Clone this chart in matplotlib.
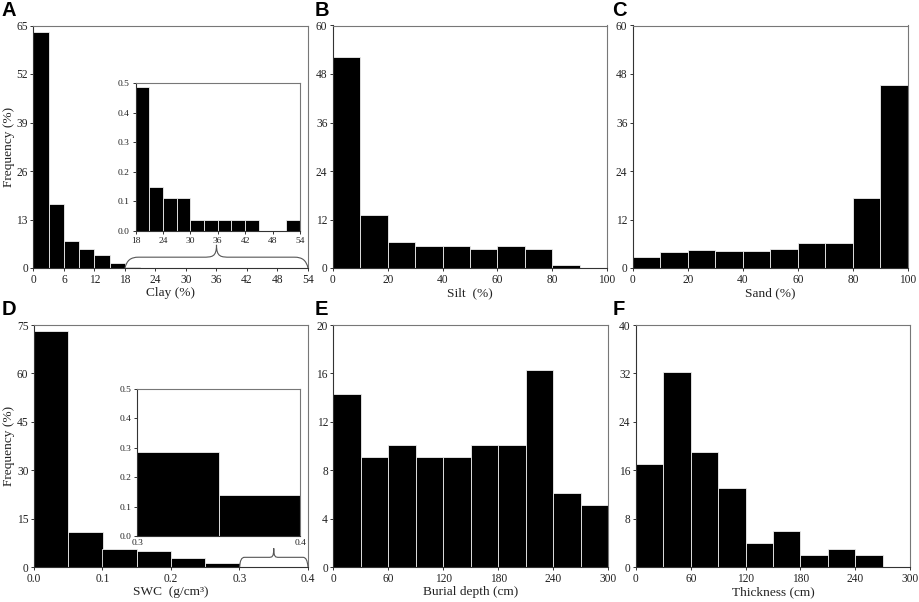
import numpy as np
import matplotlib
matplotlib.use("Agg")
import matplotlib.pyplot as plt
from matplotlib.patches import PathPatch
from matplotlib.path import Path

plt.rcParams["font.family"] = ["Liberation Serif", "DejaVu Serif"]

W, H = 920, 602

clay_freq = [63.2, 17.2, 7.3, 5.0, 3.5, 1.4, 0.4, 0, 0, 0, 0, 0, 0, 0, 0, 0, 0, 0]
clay_inset_freq = [0.485, 0.148, 0.111, 0.111, 0.037, 0.037, 0.037, 0.037, 0.037, 0, 0, 0.037]
silt_freq = [52.3, 13.0, 6.4, 5.4, 5.4, 4.7, 5.4, 4.7, 0.7, 0]
sand_freq = [2.8, 3.9, 4.4, 4.1, 4.3, 4.7, 6.2, 6.2, 17.3, 45.3]
swc_freq = [73.0, 11.0, 5.7, 5.1, 2.8, 1.1, 0.0, 0.0]
swc_inset_freq = [0.285, 0.14]
depth_freq = [14.3, 9.1, 10.1, 9.1, 9.1, 10.1, 10.1, 16.3, 6.1, 5.1]
thick_freq = [17.0, 32.2, 19.0, 13.0, 4.0, 6.0, 2.0, 3.0, 2.0, 0]

clay_xticks = [0, 6, 12, 18, 24, 30, 36, 42, 48, 54]
clay_inset_xticks = [18, 24, 30, 36, 42, 48, 54]
pct_xticks = [0, 20, 40, 60, 80, 100]
swc_xticks = [0.0, 0.1, 0.2, 0.3, 0.4]
cm_xticks = [0, 60, 120, 180, 240, 300]
clay_yticks = [0, 13, 26, 39, 52, 65]
silt_yticks = [0, 12, 24, 36, 48, 60]
swc_yticks = [0, 15, 30, 45, 60, 75]
depth_yticks = [0, 4, 8, 12, 16, 20]
thick_yticks = [0, 8, 16, 24, 32, 40]
inset_yticks = [0.0, 0.1, 0.2, 0.3, 0.4, 0.5]


def px_axes(fig, x0, y0, x1, y1):
    # pixel box, y measured from the top of the image
    return fig.add_axes([x0 / W, 1 - y1 / H, (x1 - x0) / W, (y1 - y0) / H])


def hist_panel(ax, freq, xlim, xticks, yticks, xlabel=None, ylabel=None, fmt=None, size=8.3):
    edges = np.linspace(xlim[0], xlim[1], len(freq) + 1)
    ax.bar(edges[:-1], freq, width=np.diff(edges), align="edge",
           color="black", edgecolor="#eeeeee", linewidth=0.6)
    ax.set_xlim(xlim)
    ax.set_ylim(yticks[0], yticks[-1])
    ax.set_xticks(xticks)
    ax.set_yticks(yticks)
    if fmt:
        ax.set_xticklabels([fmt.format(t) for t in xticks])
        ax.set_yticklabels([str(t) for t in yticks])
    ax.tick_params(length=2.5, width=0.7, labelsize=size, pad=1.5, color="#333333", labelcolor="#222222")
    for side in ("top", "right"):
        ax.spines[side].set_color("#777777")
    for side in ("left", "bottom"):
        ax.spines[side].set_color("#333333")
    for s in ax.spines.values():
        s.set_linewidth(0.8)
    if xlabel:
        ax.set_xlabel(xlabel, fontsize=9.6, labelpad=1, color="#222222")
    if ylabel:
        ax.set_ylabel(ylabel, fontsize=9.6, color="#222222")
        ax.yaxis.set_label_coords(-0.068, 0.5)


def brace(ax, x0, x1, y_flat, y_tip):
    # curly brace in data coordinates, feet on the x axis, tip pointing up
    xm = (x0 + x1) / 2
    dx = (x1 - x0) * 0.05
    verts = [(x0, 0),
             (x0 + 0.2 * dx, y_flat * 0.7), (x0 + 0.6 * dx, y_flat), (x0 + 1.5 * dx, y_flat),
             (xm - 1.5 * dx, y_flat),
             (xm - 0.5 * dx, y_flat), (xm, y_flat), (xm, y_tip),
             (xm, y_flat), (xm + 0.5 * dx, y_flat), (xm + 1.5 * dx, y_flat),
             (x1 - 1.5 * dx, y_flat),
             (x1 - 0.6 * dx, y_flat), (x1 - 0.2 * dx, y_flat * 0.7), (x1, 0)]
    codes = [Path.MOVETO,
             Path.CURVE4, Path.CURVE4, Path.CURVE4,
             Path.LINETO,
             Path.CURVE4, Path.CURVE4, Path.CURVE4,
             Path.CURVE4, Path.CURVE4, Path.CURVE4,
             Path.LINETO,
             Path.CURVE4, Path.CURVE4, Path.CURVE4]
    ax.add_patch(PathPatch(Path(verts, codes), fill=False, edgecolor="#555555",
                           linewidth=0.8, clip_on=False, zorder=5))


fig = plt.figure(figsize=(W / 100, H / 100), dpi=100)

ax_a = px_axes(fig, 33.5, 25.5, 308, 268)
hist_panel(ax_a, clay_freq, (0, 54), clay_xticks, clay_yticks, "Clay (%)", "Frequency (%)")
brace(ax_a, 18, 54, 2.9, 6.2)
in_a = px_axes(fig, 135.5, 83, 300, 231)
hist_panel(in_a, clay_inset_freq, (18, 54), clay_inset_xticks, inset_yticks, size=6.8)

ax_b = px_axes(fig, 333, 25.5, 607, 268)
hist_panel(ax_b, silt_freq, (0, 100), pct_xticks, silt_yticks, "Silt  (%)")

ax_c = px_axes(fig, 633, 25.5, 908, 268)
hist_panel(ax_c, sand_freq, (0, 100), pct_xticks, silt_yticks, "Sand (%)")

ax_d = px_axes(fig, 34, 325, 308, 567)
hist_panel(ax_d, swc_freq, (0, 0.4), swc_xticks, swc_yticks, "SWC  (g/cm³)", "Frequency (%)", fmt="{:.1f}")
brace(ax_d, 0.3, 0.4, 3.0, 5.8)
in_d = px_axes(fig, 137.5, 389, 300.5, 536)
hist_panel(in_d, swc_inset_freq, (0.3, 0.4), [0.3, 0.4], inset_yticks, size=6.8, fmt="{:.1f}")
in_d.set_yticklabels([f"{t:.1f}" for t in inset_yticks])
in_d.tick_params(axis="x", length=0, pad=2)

ax_e = px_axes(fig, 333.5, 325, 608, 567)
hist_panel(ax_e, depth_freq, (0, 300), cm_xticks, depth_yticks, "Burial depth (cm)")

ax_f = px_axes(fig, 636, 325, 910, 567)
hist_panel(ax_f, thick_freq, (0, 300), cm_xticks, thick_yticks, "Thickness (cm)")

panel_letters = ["A", "B", "C", "D", "E", "F"]
letter_x = [2, 315, 612, 2, 315, 613]
letter_y = [16.5, 16.5, 16.5, 315, 315, 315]
for s, x, y in zip(panel_letters, letter_x, letter_y):
    fig.text(x / W, 1 - y / H, s, fontsize=14.5, fontweight="bold",
             family="Liberation Sans", va="baseline", ha="left")

fig.savefig("out.png", dpi=100)
plt.close(fig)
